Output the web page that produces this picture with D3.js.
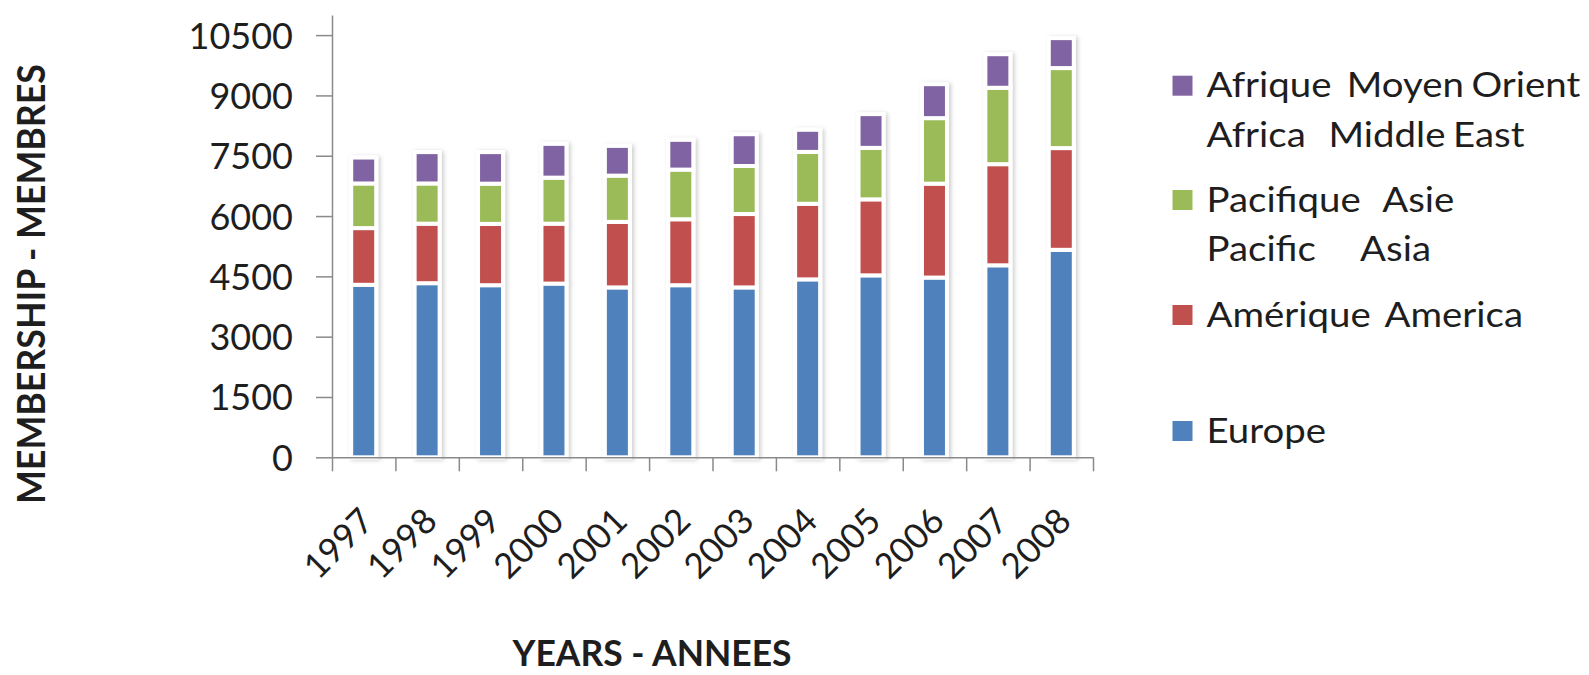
<!DOCTYPE html>
<html>
<head>
<meta charset="utf-8">
<script src="https://cdn.jsdelivr.net/npm/d3@7/dist/d3.min.js"></script>
<style>
  html, body { margin: 0; padding: 0; background: #fff; }
  svg { display: block; }
  text { font-family: Lato, "Open Sans", sans-serif; fill: #1e1e1e; }
</style>
</head>
<body>
<svg id="chart" width="1589" height="675"></svg>
<script>
const years = ["1997","1998","1999","2000","2001","2002","2003","2004","2005","2006","2007","2008"];
const europe  = [4290, 4330, 4280, 4320, 4225, 4280, 4225, 4425, 4525, 4470, 4775, 5160];
const america = [1410, 1480, 1525, 1490, 1630, 1640, 1825, 1880, 1890, 2335, 2515, 2530];
const pacific = [1110, 1000, 1000, 1145, 1150, 1235, 1195, 1290, 1280, 1630, 1900, 1990];
const africa  = [ 645,  780,  785,  840,  740,  740,  790,  550,  840,  845,  835,  745];
const seriesKeys = ["europe", "america", "pacific", "africa"];
const seriesColors = ["#4F81BD", "#C0504D", "#9BBB59", "#8064A2"];
const legendLabels = [
  ["Afrique  Moyen Orient", "Africa   Middle East"],
  ["Pacifique   Asie", "Pacific      Asia"],
  ["Amérique  America"],
  ["Europe"]
];
const legendColors = ["#8064A2", "#9BBB59", "#C0504D", "#4F81BD"];
const yTicks = [0, 1500, 3000, 4500, 6000, 7500, 9000, 10500];
const yMax = 11000;
const yTitle = "MEMBERSHIP - MEMBRES";
const xTitle = "YEARS - ANNEES";

const svg = d3.select("#chart");
const plotLeft = 332, plotRight = 1093, plotTop = 15, plotBottom = 457.3;

const table = years.map((yr, i) => ({
  year: yr, europe: europe[i], america: america[i], pacific: pacific[i], africa: africa[i]
}));
const stacked = d3.stack().keys(seriesKeys)(table);

const x = d3.scaleBand().domain(years).range([plotLeft, plotRight]).padding(0);
const xEdges = d3.scaleLinear().domain([0, years.length]).range([plotLeft, plotRight]);
const y = d3.scaleLinear().domain([0, yMax]).range([plotBottom, plotTop]);
const color = d3.scaleOrdinal().domain(seriesKeys).range(seriesColors);

const defs = svg.append("defs");
const f = defs.append("filter").attr("id", "shadow")
  .attr("x", "-50%").attr("y", "-10%").attr("width", "200%").attr("height", "120%");
f.append("feDropShadow").attr("dx", 2).attr("dy", 1).attr("stdDeviation", 2.2)
  .attr("flood-color", "#000").attr("flood-opacity", 0.2);

// bars
const barW = 25;
const barG = svg.append("g").attr("filter", "url(#shadow)");
barG.selectAll("g.series").data(stacked).join("g")
  .attr("class", "series")
  .attr("fill", d => color(d.key))
  .selectAll("rect").data(d => d).join("rect")
    .attr("x", d => x(d.data.year) + x.bandwidth() / 2 - barW / 2)
    .attr("width", barW)
    .attr("y", d => y(d[1]))
    .attr("height", d => y(d[0]) - y(d[1]))
    .attr("stroke", "#fff")
    .attr("stroke-width", 4);

// y axis
const yAxis = svg.append("g").attr("transform", `translate(${plotLeft},0)`)
  .call(d3.axisLeft(y).tickValues(yTicks).tickSize(16).tickSizeOuter(0).tickPadding(23).tickFormat(d3.format("d")));
yAxis.select(".domain").attr("stroke", "#8a8a8a").attr("stroke-width", 1.5);
yAxis.selectAll(".tick line").attr("stroke", "#8a8a8a").attr("stroke-width", 1.5);
yAxis.selectAll(".tick text").attr("font-size", 36).attr("fill", "#1e1e1e")
  .attr("font-family", "Lato, sans-serif").attr("dy", "0.36em");

// x axis (ticks at category boundaries)
const xAxis = svg.append("g").attr("transform", `translate(0,${plotBottom})`)
  .call(d3.axisBottom(xEdges).ticks(years.length).tickSize(14).tickSizeOuter(0).tickFormat(""));
xAxis.select(".domain").attr("stroke", "#8a8a8a").attr("stroke-width", 1.5);
xAxis.selectAll(".tick line").attr("stroke", "#8a8a8a").attr("stroke-width", 1.5);

// x labels rotated
svg.append("g").selectAll("text").data(years).join("text")
  .attr("transform", d => `translate(${x(d) + x.bandwidth() / 2 + 3},${plotBottom + 57}) rotate(-45)`)
  .attr("text-anchor", "end")
  .attr("dy", "0.36em")
  .attr("font-size", 35)
  .text(d => d);

// axis titles
svg.append("text")
  .attr("transform", "translate(45,284) rotate(-90)")
  .attr("text-anchor", "middle")
  .attr("font-size", 38).attr("font-weight", "bold")
  .attr("textLength", 440).attr("lengthAdjust", "spacingAndGlyphs")
  .text(yTitle);
svg.append("text")
  .attr("x", 652).attr("y", 666)
  .attr("text-anchor", "middle")
  .attr("font-size", 36).attr("font-weight", "bold")
  .attr("textLength", 279).attr("lengthAdjust", "spacingAndGlyphs")
  .text(xTitle);

// legend
const legendTops = [75.7, 190, 305, 421];
const lg = svg.append("g");
legendLabels.forEach((lines, i) => {
  const g = lg.append("g").attr("transform", `translate(1172.5,${legendTops[i]})`);
  g.append("rect").attr("width", 20).attr("height", 20).attr("fill", legendColors[i]);
  const t = g.append("text")
    .attr("transform", "translate(34,21.5) scale(1.13,1)")
    .attr("font-size", 34).style("white-space", "pre").style("word-spacing", "-2px");
  lines.forEach((ln, j) => {
    t.append("tspan").attr("x", 0).attr("dy", j === 0 ? 0 : 50).text(ln);
  });
});
</script>
</body>
</html>
